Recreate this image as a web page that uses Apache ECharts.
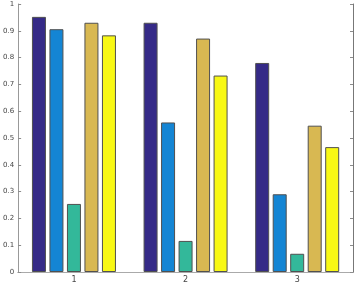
<!DOCTYPE html>
<html>
<head>
<meta charset="utf-8">
<script src="https://cdn.jsdelivr.net/npm/echarts@6/dist/echarts.min.js"></script>
<style>html,body{margin:0;padding:0;background:#fff}#c{width:354px;height:285px}</style>
</head>
<body>
<div id="c"></div>
<script>
const categories = ['1', '2', '3'];
const s1 = [0.952, 0.930, 0.780];
const s2 = [0.906, 0.558, 0.290];
const s3 = [0.254, 0.116, 0.068];
const s4 = [0.930, 0.871, 0.546];
const s5 = [0.883, 0.733, 0.466];
const colors = ['#352a87', '#1485d4', '#33b89a', '#d8b852', '#f8f814'];
const seriesData = [s1, s2, s3, s4, s5];

const chart = echarts.init(document.getElementById('c'), null, {renderer: 'canvas'});
const tickCol = '#8c8c8c';
chart.setOption({
  animation: false,
  grid: {left: 16, right: 1, top: 4, bottom: 13, containLabel: false},
  xAxis: [{
    type: 'category', data: categories, boundaryGap: true,
    axisLine: {lineStyle: {color: '#555', width: 1}},
    axisTick: {inside: true, alignWithLabel: true, length: 3, lineStyle: {color: tickCol}},
    axisLabel: {fontSize: 8, color: '#444', margin: 4, fontFamily: 'DejaVu Sans'},
    splitLine: {show: false}
  }, {
    type: 'category', data: categories, position: 'top', boundaryGap: true,
    axisLine: {show: true, lineStyle: {color: '#aaa', width: 1}},
    axisTick: {inside: true, alignWithLabel: true, length: 3, lineStyle: {color: tickCol}},
    axisLabel: {show: false}
  }],
  yAxis: [{
    type: 'value', min: 0, max: 1, interval: 0.1,
    axisLine: {show: true, lineStyle: {color: '#999', width: 1}},
    axisTick: {show: true, inside: true, length: 3, lineStyle: {color: tickCol}},
    axisLabel: {fontSize: 7, color: '#444', margin: 4, fontFamily: 'DejaVu Sans'},
    splitLine: {show: false}
  }, {
    type: 'value', min: 0, max: 1, interval: 0.1, position: 'right',
    axisLine: {show: true, lineStyle: {color: '#777', width: 1}},
    axisTick: {show: true, inside: true, length: 3, lineStyle: {color: tickCol}},
    axisLabel: {show: false},
    splitLine: {show: false}
  }],
  series: seriesData.map((d, i) => ({
    type: 'bar', data: d, xAxisIndex: 0, yAxisIndex: 0,
    barWidth: 14, barGap: '25%',
    itemStyle: {color: colors[i], borderColor: '#505050', borderWidth: 1}
  }))
});
</script>
</body>
</html>
